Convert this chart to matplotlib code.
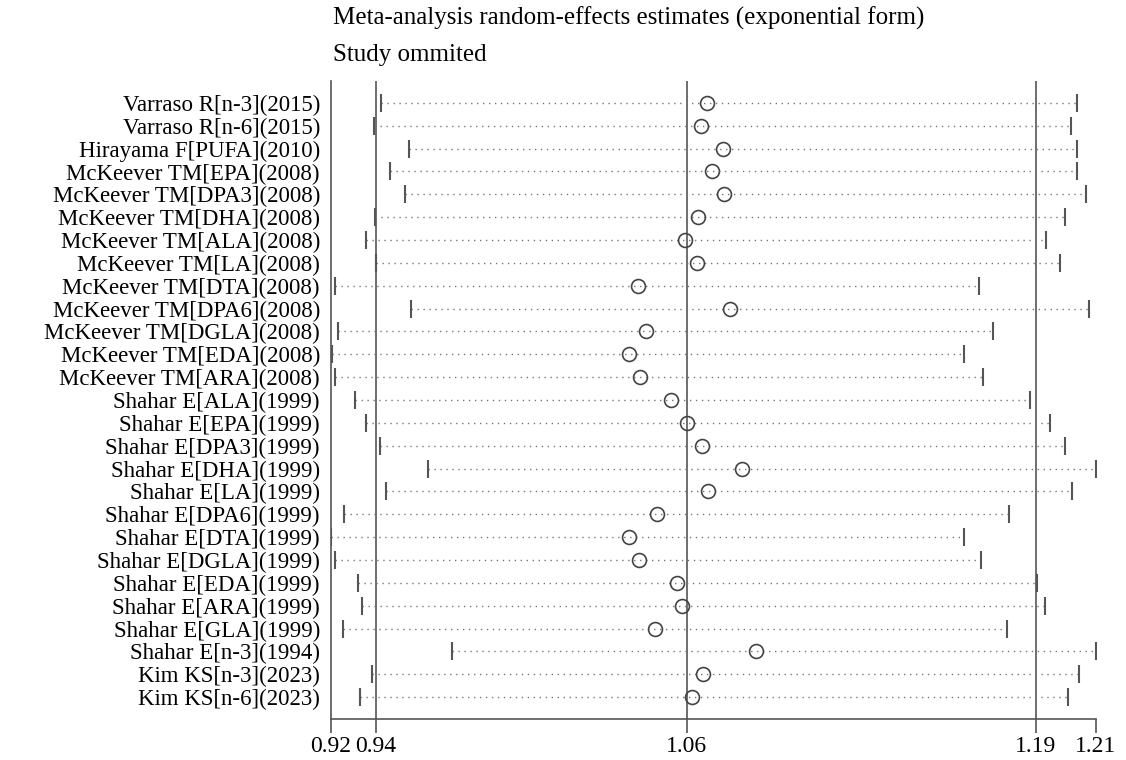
import matplotlib
matplotlib.use("Agg")
import matplotlib.pyplot as plt

plt.rcParams['font.family'] = ['Liberation Serif', 'DejaVu Serif']

# Study omitted (one row per study)
studies = [
    "Varraso R[n-3](2015)", "Varraso R[n-6](2015)", "Hirayama F[PUFA](2010)",
    "McKeever TM[EPA](2008)", "McKeever TM[DPA3](2008)", "McKeever TM[DHA](2008)",
    "McKeever TM[ALA](2008)", "McKeever TM[LA](2008)", "McKeever TM[DTA](2008)",
    "McKeever TM[DPA6](2008)", "McKeever TM[DGLA](2008)", "McKeever TM[EDA](2008)",
    "McKeever TM[ARA](2008)", "Shahar E[ALA](1999)", "Shahar E[EPA](1999)",
    "Shahar E[DPA3](1999)", "Shahar E[DHA](1999)", "Shahar E[LA](1999)",
    "Shahar E[DPA6](1999)", "Shahar E[DTA](1999)", "Shahar E[DGLA](1999)",
    "Shahar E[EDA](1999)", "Shahar E[ARA](1999)", "Shahar E[GLA](1999)",
    "Shahar E[n-3](1994)", "Kim KS[n-3](2023)", "Kim KS[n-6](2023)",
]

# Estimates with the study omitted (exponential form)
estimate = [1.0641, 1.0617, 1.0702, 1.0660, 1.0705, 1.0606, 1.0556, 1.0603, 1.0377,
            1.0728, 1.0407, 1.0344, 1.0384, 1.0503, 1.0564, 1.0621, 1.0775, 1.0643,
            1.0448, 1.0344, 1.0382, 1.0527, 1.0545, 1.0441, 1.0826, 1.0624, 1.0583]
lower = [0.9397, 0.9370, 0.9504, 0.9429, 0.9486, 0.9373, 0.9339, 0.9377, 0.9220,
         0.9510, 0.9233, 0.9209, 0.9221, 0.9296, 0.9339, 0.9392, 0.9574, 0.9416,
         0.9255, 0.9205, 0.9220, 0.9309, 0.9323, 0.9251, 0.9667, 0.9360, 0.9317]
upper = [1.2051, 1.2028, 1.2051, 1.2051, 1.2087, 1.2005, 1.1934, 1.1987, 1.1679,
         1.2098, 1.1733, 1.1622, 1.1692, 1.1874, 1.1949, 1.2007, 1.2125, 1.2033,
         1.1792, 1.1622, 1.1686, 1.1899, 1.1929, 1.1784, 1.2125, 1.2059, 1.2017]

# Overall combined estimate
overall_lower = 0.9375
overall_est = 1.0562
overall_upper = 1.1895

fig = plt.figure(figsize=(11.26, 7.6), dpi=100)
ax = fig.add_axes([331 / 1126, 1 - 719 / 760, 765 / 1126, 638 / 760])

rows = list(range(1, len(studies) + 1))
line_col = '#555555'

# reference lines for the overall estimate and its CI
for v in (overall_lower, overall_est, overall_upper):
    ax.axvline(v, color=line_col, lw=1.2, zorder=1)

# CI lines with end caps and the point estimate
for y, lo, est, hi in zip(rows, lower, estimate, upper):
    ax.plot([lo, hi], [y, y], color='#777777', lw=1.0,
            linestyle=(0, (1, 3.3)), zorder=2)
    ax.plot([lo, hi], [y, y], linestyle='none', marker='|', markersize=13,
            markeredgewidth=1.5, color='#555555', zorder=3)
    ax.plot(est, y, marker='o', markersize=10, markerfacecolor='none',
            markeredgecolor='#444444', markeredgewidth=1.2, zorder=4)

xmin = min(lower)
xmax = max(upper)
ax.set_xlim(xmin, xmax)
ax.set_ylim(len(studies) + 0.96, 0.04)

ticks = [xmin, overall_lower, overall_est, overall_upper, xmax]
ax.set_xticks(ticks)
ax.set_xticklabels([f"{t:.2f}" for t in ticks], fontsize=17)
ax.tick_params(axis='x', length=10, width=1.2, color=line_col, pad=2)

ax.set_yticks(rows)
ax.set_yticklabels(studies, fontsize=16.5)
ax.tick_params(axis='y', length=0, pad=8)

for side in ('top', 'right'):
    ax.spines[side].set_visible(False)
for side in ('left', 'bottom'):
    ax.spines[side].set_color(line_col)
    ax.spines[side].set_linewidth(1.2)

fig.text(333 / 1126, 1 - 18 / 760,
         "Meta-analysis random-effects estimates (exponential form)",
         fontsize=18, va='center', ha='left')
fig.text(333 / 1126, 1 - 55 / 760, "Study ommited",
         fontsize=18, va='center', ha='left')

fig.savefig("out.png", dpi=100)
